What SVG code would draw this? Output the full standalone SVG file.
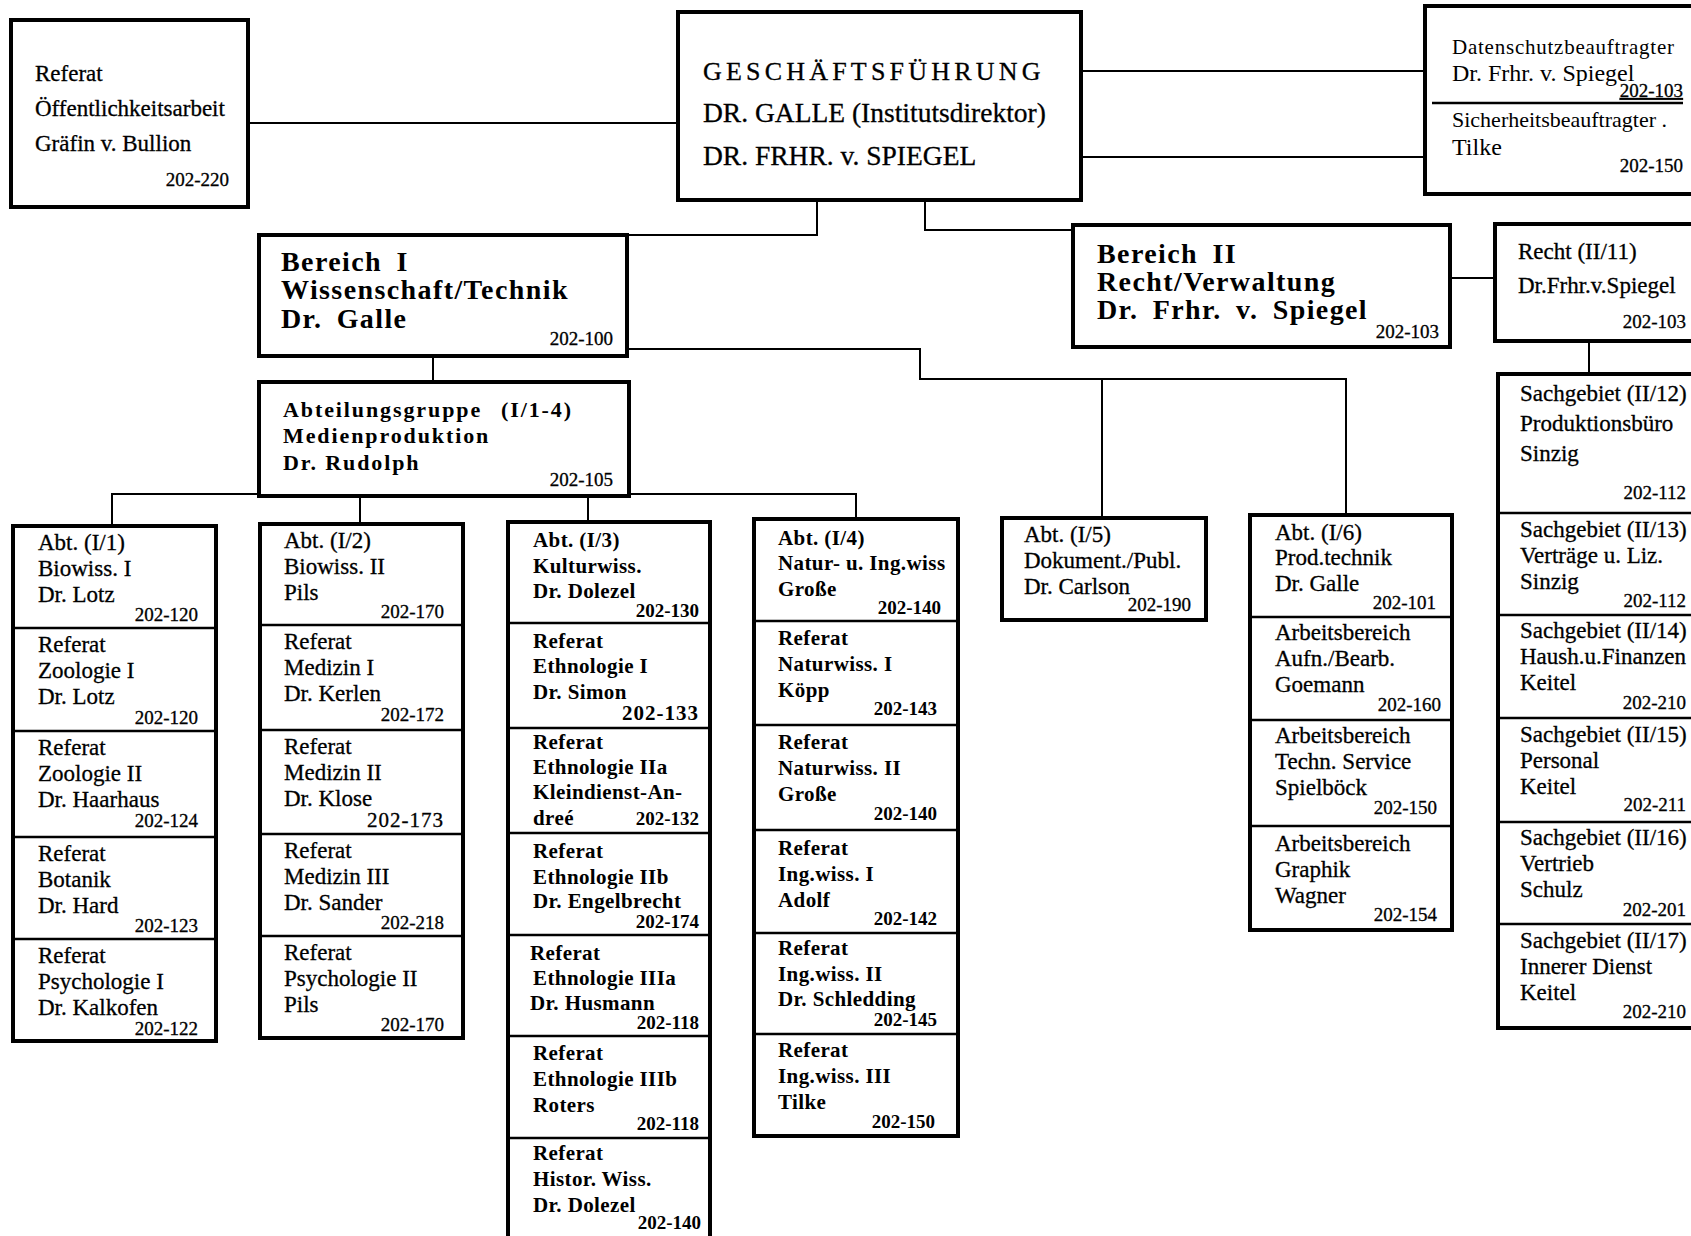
<svg xmlns="http://www.w3.org/2000/svg" width="1691" height="1236" viewBox="0 0 1691 1236">
<style>
.box{fill:#fff;stroke:#000;stroke-width:4}
.dv{stroke:#000;stroke-width:2.5}
.con{fill:none;stroke:#000;stroke-width:2}
text{font-family:"Liberation Serif","Times New Roman",serif;fill:#000}
.r{font-size:23px;stroke:#000;stroke-width:0.3}
.bb{font-size:21px;font-weight:bold;letter-spacing:0.4px}
.n{font-size:19px;text-anchor:end;stroke:#000;stroke-width:0.3}
.nb{font-size:19px;font-weight:bold;text-anchor:end}
.hd{font-size:28px;font-weight:bold;letter-spacing:1.4px;word-spacing:6px}
.ag{font-size:22px;font-weight:bold;letter-spacing:1.9px}
.gf{font-size:27.5px;stroke:#000;stroke-width:0.3}
</style>
<rect width="1691" height="1236" fill="#fff"/>
<g id="connectors">
<path class="con" d="M248,123 H678"/>
<path class="con" d="M1081,71 H1425"/>
<path class="con" d="M1081,157 H1425"/>
<path class="con" d="M817,200 V235 H627"/>
<path class="con" d="M925,200 V230 H1073"/>
<path class="con" d="M1450,278 H1495"/>
<path class="con" d="M1589,341 V374"/>
<path class="con" d="M433,356 V382"/>
<path class="con" d="M627,349 H920 V379 H1346 V515"/>
<path class="con" d="M1102,379 V518"/>
<path class="con" d="M112,526 V494 H259"/>
<path class="con" d="M629,494 H856 V519"/>
<path class="con" d="M360,496 V524"/>
<path class="con" d="M588,496 V522"/>
</g>
<g id="referat-oeffentlichkeitsarbeit">
<rect class="box" x="11" y="20" width="237" height="187"/>
<text class="r" x="35" y="81">Referat</text>
<text class="r" x="35" y="116">Öffentlichkeitsarbeit</text>
<text class="r" x="35" y="151">Gräfin v. Bullion</text>
<text class="n" x="229" y="186">202-220</text>
</g>
<g id="geschaeftsfuehrung">
<rect class="box" x="678" y="12" width="403" height="188"/>
<text x="703" y="80" style="font-size:26px;letter-spacing:4.2px;stroke:#000;stroke-width:0.3">GESCHÄFTSFÜHRUNG</text>
<text class="gf" x="703" y="122">DR. GALLE (Institutsdirektor)</text>
<text class="gf" x="703" y="165">DR. FRHR. v. SPIEGEL</text>
</g>
<g id="datenschutz">
<rect class="box" x="1425" y="6" width="280" height="188"/>
<line class="dv" x1="1432" y1="103" x2="1683" y2="103"/>
<text x="1452" y="54" style="font-size:21px" textLength="222">Datenschutzbeauftragter</text>
<text x="1452" y="81" style="font-size:24px">Dr. Frhr. v. Spiegel</text>
<text class="n" x="1683" y="97" text-decoration="underline">202-103</text>
<text x="1452" y="127" style="font-size:22px">Sicherheitsbeauftragter .</text>
<text x="1452" y="155" style="font-size:24px">Tilke</text>
<text class="n" x="1683" y="172">202-150</text>
</g>
<g id="bereich-1">
<rect class="box" x="259" y="235" width="368" height="121"/>
<text class="hd" x="281" y="271">Bereich I</text>
<text class="hd" x="281" y="299">Wissenschaft/Technik</text>
<text class="hd" x="281" y="328">Dr. Galle</text>
<text class="n" x="613" y="345">202-100</text>
</g>
<g id="bereich-2">
<rect class="box" x="1073" y="225" width="377" height="122"/>
<text class="hd" x="1097" y="263">Bereich II</text>
<text class="hd" x="1097" y="291">Recht/Verwaltung</text>
<text class="hd" x="1097" y="319">Dr. Frhr. v. Spiegel</text>
<text class="n" x="1439" y="338">202-103</text>
</g>
<g id="recht">
<rect class="box" x="1495" y="224" width="210" height="117"/>
<text class="r" x="1518" y="259">Recht (II/11)</text>
<text class="r" x="1518" y="293">Dr.Frhr.v.Spiegel</text>
<text class="n" x="1686" y="328">202-103</text>
</g>
<g id="abteilungsgruppe">
<rect class="box" x="259" y="382" width="370" height="114"/>
<text class="ag" x="283" y="417">Abteilungsgruppe<tspan x="501">(I/1-4)</tspan></text>
<text class="ag" x="283" y="443">Medienproduktion</text>
<text class="ag" x="283" y="470">Dr. Rudolph</text>
<text class="n" x="613" y="486">202-105</text>
</g>
<g id="col-i1">
<rect class="box" x="13" y="526" width="203" height="515"/>
<g id="abt-i1"><text class="r" x="38" y="550">Abt. (I/1)</text><text class="r" x="38" y="576">Biowiss. I</text><text class="r" x="38" y="602">Dr. Lotz</text><text class="n" x="198" y="621">202-120</text></g>
<g id="ref-zoologie1"><line class="dv" x1="13" y1="628" x2="216" y2="628"/><text class="r" x="38" y="652">Referat</text><text class="r" x="38" y="678">Zoologie I</text><text class="r" x="38" y="704">Dr. Lotz</text><text class="n" x="198" y="724">202-120</text></g>
<g id="ref-zoologie2"><line class="dv" x1="13" y1="731" x2="216" y2="731"/><text class="r" x="38" y="755">Referat</text><text class="r" x="38" y="781">Zoologie II</text><text class="r" x="38" y="807">Dr. Haarhaus</text><text class="n" x="198" y="827">202-124</text></g>
<g id="ref-botanik"><line class="dv" x1="13" y1="837" x2="216" y2="837"/><text class="r" x="38" y="861">Referat</text><text class="r" x="38" y="887">Botanik</text><text class="r" x="38" y="913">Dr. Hard</text><text class="n" x="198" y="932">202-123</text></g>
<g id="ref-psychologie1"><line class="dv" x1="13" y1="939" x2="216" y2="939"/><text class="r" x="38" y="963">Referat</text><text class="r" x="38" y="989">Psychologie I</text><text class="r" x="38" y="1015">Dr. Kalkofen</text><text class="n" x="198" y="1035">202-122</text></g>
</g>
<g id="col-i2">
<rect class="box" x="260" y="524" width="203" height="514"/>
<g id="abt-i2"><text class="r" x="284" y="548">Abt. (I/2)</text><text class="r" x="284" y="574">Biowiss. II</text><text class="r" x="284" y="600">Pils</text><text class="n" x="444" y="618">202-170</text></g>
<g id="ref-medizin1"><line class="dv" x1="260" y1="625" x2="463" y2="625"/><text class="r" x="284" y="649">Referat</text><text class="r" x="284" y="675">Medizin I</text><text class="r" x="284" y="701">Dr. Kerlen</text><text class="n" x="444" y="721">202-172</text></g>
<g id="ref-medizin2"><line class="dv" x1="260" y1="730" x2="463" y2="730"/><text class="r" x="284" y="754">Referat</text><text class="r" x="284" y="780">Medizin II</text><text class="r" x="284" y="806">Dr. Klose</text><text class="n" x="444" y="827" style="font-size:21px;letter-spacing:1px">202-173</text></g>
<g id="ref-medizin3"><line class="dv" x1="260" y1="834" x2="463" y2="834"/><text class="r" x="284" y="858">Referat</text><text class="r" x="284" y="884">Medizin III</text><text class="r" x="284" y="910">Dr. Sander</text><text class="n" x="444" y="929">202-218</text></g>
<g id="ref-psychologie2"><line class="dv" x1="260" y1="936" x2="463" y2="936"/><text class="r" x="284" y="960">Referat</text><text class="r" x="284" y="986">Psychologie II</text><text class="r" x="284" y="1012">Pils</text><text class="n" x="444" y="1031">202-170</text></g>
</g>
<g id="col-i3">
<rect class="box" x="508" y="522" width="202" height="730"/>
<g id="abt-i3"><text class="bb" x="533" y="547">Abt. (I/3)</text><text class="bb" x="533" y="573">Kulturwiss.</text><text class="bb" x="533" y="598">Dr. Dolezel</text><text class="nb" x="699" y="617">202-130</text></g>
<g id="ref-ethnologie1"><line class="dv" x1="508" y1="623" x2="710" y2="623"/><text class="bb" x="533" y="648">Referat</text><text class="bb" x="533" y="673">Ethnologie I</text><text class="bb" x="533" y="699">Dr. Simon</text><text class="nb" x="699" y="720" style="font-size:21px;letter-spacing:1px">202-133</text></g>
<g id="ref-ethnologie2a"><line class="dv" x1="508" y1="728" x2="710" y2="728"/><text class="bb" x="533" y="749">Referat</text><text class="bb" x="533" y="774">Ethnologie IIa</text><text class="bb" x="533" y="799">Kleindienst-An-</text><text class="bb" x="533" y="825">dreé</text><text class="nb" x="699" y="825">202-132</text></g>
<g id="ref-ethnologie2b"><line class="dv" x1="508" y1="833" x2="710" y2="833"/><text class="bb" x="533" y="858">Referat</text><text class="bb" x="533" y="884">Ethnologie IIb</text><text class="bb" x="533" y="908">Dr. Engelbrecht</text><text class="nb" x="699" y="928">202-174</text></g>
<g id="ref-ethnologie3a"><line class="dv" x1="508" y1="935" x2="710" y2="935"/><text class="bb" x="530" y="960">Referat</text><text class="bb" x="533" y="985">Ethnologie IIIa</text><text class="bb" x="530" y="1010">Dr. Husmann</text><text class="nb" x="699" y="1029">202-118</text></g>
<g id="ref-ethnologie3b"><line class="dv" x1="508" y1="1036" x2="710" y2="1036"/><text class="bb" x="533" y="1060">Referat</text><text class="bb" x="533" y="1086">Ethnologie IIIb</text><text class="bb" x="533" y="1112">Roters</text><text class="nb" x="699" y="1130">202-118</text></g>
<g id="ref-histor"><line class="dv" x1="508" y1="1138" x2="710" y2="1138"/><text class="bb" x="533" y="1160">Referat</text><text class="bb" x="533" y="1186">Histor. Wiss.</text><text class="bb" x="533" y="1212">Dr. Dolezel</text><text class="nb" x="701" y="1229">202-140</text></g>
</g>
<g id="col-i4">
<rect class="box" x="754" y="519" width="204" height="617"/>
<g id="abt-i4"><text class="bb" x="778" y="545">Abt. (I/4)</text><text class="bb" x="778" y="570">Natur- u. Ing.wiss</text><text class="bb" x="778" y="596">Große</text><text class="nb" x="941" y="614">202-140</text></g>
<g id="ref-naturwiss1"><line class="dv" x1="754" y1="621" x2="958" y2="621"/><text class="bb" x="778" y="645">Referat</text><text class="bb" x="778" y="671">Naturwiss. I</text><text class="bb" x="778" y="697">Köpp</text><text class="nb" x="937" y="715">202-143</text></g>
<g id="ref-naturwiss2"><line class="dv" x1="754" y1="725" x2="958" y2="725"/><text class="bb" x="778" y="749">Referat</text><text class="bb" x="778" y="775">Naturwiss. II</text><text class="bb" x="778" y="801">Große</text><text class="nb" x="937" y="820">202-140</text></g>
<g id="ref-ingwiss1"><line class="dv" x1="754" y1="830" x2="958" y2="830"/><text class="bb" x="778" y="855">Referat</text><text class="bb" x="778" y="881">Ing.wiss. I</text><text class="bb" x="778" y="907">Adolf</text><text class="nb" x="937" y="925">202-142</text></g>
<g id="ref-ingwiss2"><line class="dv" x1="754" y1="933" x2="958" y2="933"/><text class="bb" x="778" y="955">Referat</text><text class="bb" x="778" y="981">Ing.wiss. II</text><text class="bb" x="778" y="1006">Dr. Schledding</text><text class="nb" x="937" y="1026">202-145</text></g>
<g id="ref-ingwiss3"><line class="dv" x1="754" y1="1034" x2="958" y2="1034"/><text class="bb" x="778" y="1057">Referat</text><text class="bb" x="778" y="1083">Ing.wiss. III</text><text class="bb" x="778" y="1109">Tilke</text><text class="nb" x="935" y="1128">202-150</text></g>
</g>
<g id="abt-i5">
<rect class="box" x="1002" y="518" width="204" height="102"/>
<text class="r" x="1024" y="542">Abt. (I/5)</text><text class="r" x="1024" y="568">Dokument./Publ.</text><text class="r" x="1024" y="594">Dr. Carlson</text><text class="n" x="1191" y="611">202-190</text>
</g>
<g id="col-i6">
<rect class="box" x="1250" y="515" width="202" height="415"/>
<g id="abt-i6"><text class="r" x="1275" y="540">Abt. (I/6)</text><text class="r" x="1275" y="565">Prod.technik</text><text class="r" x="1275" y="591">Dr. Galle</text><text class="n" x="1436" y="609">202-101</text></g>
<g id="ab-aufn"><line class="dv" x1="1250" y1="617" x2="1452" y2="617"/><text class="r" x="1275" y="640">Arbeitsbereich</text><text class="r" x="1275" y="666">Aufn./Bearb.</text><text class="r" x="1275" y="692">Goemann</text><text class="n" x="1441" y="711">202-160</text></g>
<g id="ab-service"><line class="dv" x1="1250" y1="720" x2="1452" y2="720"/><text class="r" x="1275" y="743">Arbeitsbereich</text><text class="r" x="1275" y="769">Techn. Service</text><text class="r" x="1275" y="795">Spielböck</text><text class="n" x="1437" y="814">202-150</text></g>
<g id="ab-graphik"><line class="dv" x1="1250" y1="826" x2="1452" y2="826"/><text class="r" x="1275" y="851">Arbeitsbereich</text><text class="r" x="1275" y="877">Graphik</text><text class="r" x="1275" y="903">Wagner</text><text class="n" x="1437" y="921">202-154</text></g>
</g>
<g id="col-ii">
<rect class="box" x="1498" y="374" width="210" height="654"/>
<g id="sg-12"><text class="r" x="1520" y="401">Sachgebiet (II/12)</text><text class="r" x="1520" y="431">Produktionsbüro</text><text class="r" x="1520" y="461">Sinzig</text><text class="n" x="1686" y="499">202-112</text></g>
<g id="sg-13"><line class="dv" x1="1498" y1="513" x2="1700" y2="513"/><text class="r" x="1520" y="537">Sachgebiet (II/13)</text><text class="r" x="1520" y="563">Verträge u. Liz.</text><text class="r" x="1520" y="589">Sinzig</text><text class="n" x="1686" y="607">202-112</text></g>
<g id="sg-14"><line class="dv" x1="1498" y1="615" x2="1700" y2="615"/><text class="r" x="1520" y="638">Sachgebiet (II/14)</text><text class="r" x="1520" y="664">Haush.u.Finanzen</text><text class="r" x="1520" y="690">Keitel</text><text class="n" x="1686" y="709">202-210</text></g>
<g id="sg-15"><line class="dv" x1="1498" y1="718" x2="1700" y2="718"/><text class="r" x="1520" y="742">Sachgebiet (II/15)</text><text class="r" x="1520" y="768">Personal</text><text class="r" x="1520" y="794">Keitel</text><text class="n" x="1686" y="811">202-211</text></g>
<g id="sg-16"><line class="dv" x1="1498" y1="822" x2="1700" y2="822"/><text class="r" x="1520" y="845">Sachgebiet (II/16)</text><text class="r" x="1520" y="871">Vertrieb</text><text class="r" x="1520" y="897">Schulz</text><text class="n" x="1686" y="916">202-201</text></g>
<g id="sg-17"><line class="dv" x1="1498" y1="924" x2="1700" y2="924"/><text class="r" x="1520" y="948">Sachgebiet (II/17)</text><text class="r" x="1520" y="974">Innerer Dienst</text><text class="r" x="1520" y="1000">Keitel</text><text class="n" x="1686" y="1018">202-210</text></g>
</g>
</svg>
